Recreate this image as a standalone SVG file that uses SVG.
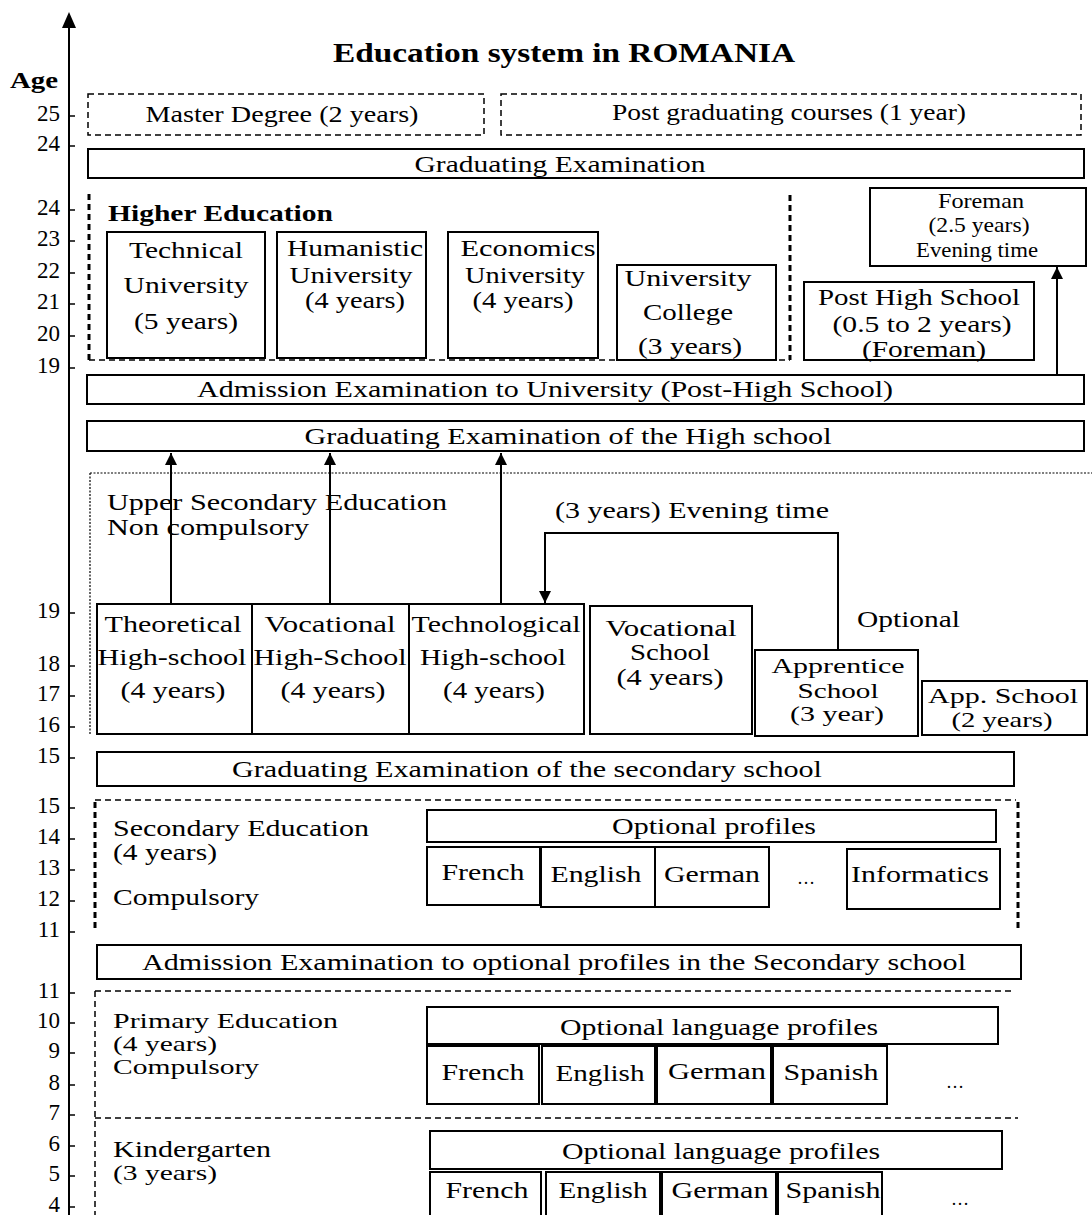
<svg xmlns="http://www.w3.org/2000/svg" width="1092" height="1215" viewBox="0 0 1092 1215">
<style>
text{font-family:"Liberation Serif","Times New Roman",serif;font-size:24px;fill:#000}
.c{text-anchor:middle}
.n{text-anchor:end;font-size:23px}
.s{font-size:21px}
.bold{font-weight:bold}
.box{fill:#fff;stroke:#000;stroke-width:2}
.dash{fill:none;stroke:#000;stroke-width:1.5;stroke-dasharray:6 4}
.tdash{fill:none;stroke:#000;stroke-width:3;stroke-dasharray:6 4}
.dot{fill:none;stroke:#000;stroke-width:1.2;stroke-dasharray:2 1.5}
.ln{fill:none;stroke:#000;stroke-width:2}
</style>
<defs>
<marker id="ah" viewBox="0 0 12 12" refX="12" refY="6" markerWidth="12" markerHeight="12" markerUnits="userSpaceOnUse" orient="auto">
<path d="M0,0 L12,6 L0,12 Z" fill="#000"/>
</marker>
</defs>
<rect width="1092" height="1215" fill="#fff"/>

<g id="axis">
<line x1="69" y1="1215" x2="69" y2="26" class="ln"/>
<path d="M62,28 L69,12 L76,28 Z" fill="#000"/>
<text x="10" y="88" class="bold" style="font-size:24px" textLength="48" lengthAdjust="spacingAndGlyphs">Age</text>
<g stroke="#000" stroke-width="1.5">
<line x1="69" y1="116" x2="75" y2="116"/><line x1="69" y1="146" x2="75" y2="146"/>
<line x1="69" y1="210" x2="75" y2="210"/><line x1="69" y1="241" x2="75" y2="241"/>
<line x1="69" y1="273" x2="75" y2="273"/><line x1="69" y1="304" x2="75" y2="304"/>
<line x1="69" y1="336" x2="75" y2="336"/><line x1="69" y1="368" x2="75" y2="368"/>
<line x1="69" y1="613" x2="75" y2="613"/><line x1="69" y1="666" x2="75" y2="666"/>
<line x1="69" y1="696" x2="75" y2="696"/><line x1="69" y1="727" x2="75" y2="727"/>
<line x1="69" y1="758" x2="75" y2="758"/><line x1="69" y1="808" x2="75" y2="808"/>
<line x1="69" y1="839" x2="75" y2="839"/><line x1="69" y1="870" x2="75" y2="870"/>
<line x1="69" y1="901" x2="75" y2="901"/><line x1="69" y1="932" x2="75" y2="932"/>
<line x1="69" y1="993" x2="75" y2="993"/><line x1="69" y1="1023" x2="75" y2="1023"/>
<line x1="69" y1="1053" x2="75" y2="1053"/><line x1="69" y1="1085" x2="75" y2="1085"/>
<line x1="69" y1="1115" x2="75" y2="1115"/><line x1="69" y1="1146" x2="75" y2="1146"/>
<line x1="69" y1="1176" x2="75" y2="1176"/><line x1="69" y1="1207" x2="75" y2="1207"/>
</g>
<text x="60" y="121" class="n">25</text><text x="60" y="151" class="n">24</text>
<text x="60" y="215" class="n">24</text><text x="60" y="246" class="n">23</text>
<text x="60" y="278" class="n">22</text><text x="60" y="309" class="n">21</text>
<text x="60" y="341" class="n">20</text><text x="60" y="373" class="n">19</text>
<text x="60" y="618" class="n">19</text><text x="60" y="671" class="n">18</text>
<text x="60" y="701" class="n">17</text><text x="60" y="732" class="n">16</text>
<text x="60" y="763" class="n">15</text><text x="60" y="813" class="n">15</text>
<text x="60" y="844" class="n">14</text><text x="60" y="875" class="n">13</text>
<text x="60" y="906" class="n">12</text><text x="60" y="937" class="n">11</text>
<text x="60" y="998" class="n">11</text><text x="60" y="1028" class="n">10</text>
<text x="60" y="1058" class="n">9</text><text x="60" y="1090" class="n">8</text>
<text x="60" y="1120" class="n">7</text><text x="60" y="1151" class="n">6</text>
<text x="60" y="1181" class="n">5</text><text x="60" y="1212" class="n">4</text>
</g>

<text x="564" y="62" class="c bold" style="font-size:28px" textLength="462" lengthAdjust="spacingAndGlyphs">Education system in ROMANIA</text>

<g id="master">
<rect x="88" y="94" width="396" height="41" class="dash"/>
<text x="282" y="122" class="c" textLength="273" lengthAdjust="spacingAndGlyphs">Master Degree (2 years)</text>
</g>
<g id="postgrad">
<rect x="501" y="94" width="580" height="41" class="dash"/>
<text x="789" y="120" class="c" textLength="354" lengthAdjust="spacingAndGlyphs">Post graduating courses (1 year)</text>
</g>
<g id="grad-exam">
<rect x="88" y="149" width="996" height="29" class="box"/>
<text x="560" y="172" class="c" textLength="291" lengthAdjust="spacingAndGlyphs">Graduating Examination</text>
</g>

<g id="higher-education">
<line x1="89" y1="194" x2="89" y2="360" class="tdash"/>
<line x1="89" y1="360" x2="790" y2="360" class="dash"/>
<line x1="790" y1="195" x2="790" y2="360" class="tdash"/>
<text x="108" y="221" class="bold" textLength="225" lengthAdjust="spacingAndGlyphs">Higher Education</text>
</g>
<g id="technical">
<rect x="107" y="232" width="158" height="126" class="box"/>
<text x="186" y="258" class="c" textLength="114" lengthAdjust="spacingAndGlyphs">Technical</text>
<text x="186" y="293" class="c" textLength="125" lengthAdjust="spacingAndGlyphs">University</text>
<text x="186" y="329" class="c" textLength="104" lengthAdjust="spacingAndGlyphs">(5 years)</text>
</g>
<g id="humanistic">
<rect x="277" y="232" width="149" height="126" class="box"/>
<text x="355" y="256" class="c" textLength="136" lengthAdjust="spacingAndGlyphs">Humanistic</text>
<text x="351" y="283" class="c" textLength="123" lengthAdjust="spacingAndGlyphs">University</text>
<text x="355" y="308" class="c" textLength="100" lengthAdjust="spacingAndGlyphs">(4 years)</text>
</g>
<g id="economics">
<rect x="448" y="232" width="150" height="126" class="box"/>
<text x="528" y="256" class="c" textLength="135" lengthAdjust="spacingAndGlyphs">Economics</text>
<text x="525" y="283" class="c" textLength="120" lengthAdjust="spacingAndGlyphs">University</text>
<text x="523" y="308" class="c" textLength="101" lengthAdjust="spacingAndGlyphs">(4 years)</text>
</g>
<g id="univ-college">
<rect x="617" y="265" width="159" height="95" class="box"/>
<text x="688" y="286" class="c" textLength="127" lengthAdjust="spacingAndGlyphs">University</text>
<text x="688" y="320" class="c" textLength="90" lengthAdjust="spacingAndGlyphs">College</text>
<text x="690" y="354" class="c" textLength="104" lengthAdjust="spacingAndGlyphs">(3 years)</text>
</g>
<g id="foreman">
<rect x="870" y="188" width="216" height="78" class="box"/>
<text x="981" y="208" class="c s" textLength="86" lengthAdjust="spacingAndGlyphs">Foreman</text>
<text x="979" y="232" class="c s" textLength="101" lengthAdjust="spacingAndGlyphs">(2.5 years)</text>
<text x="977" y="257" class="c s" textLength="122" lengthAdjust="spacingAndGlyphs">Evening time</text>
</g>
<g id="post-high-school">
<rect x="804" y="282" width="230" height="78" class="box"/>
<text x="919" y="305" class="c" textLength="202" lengthAdjust="spacingAndGlyphs">Post High School</text>
<text x="922" y="332" class="c" textLength="179" lengthAdjust="spacingAndGlyphs">(0.5 to 2 years)</text>
<text x="924" y="357" class="c" textLength="124" lengthAdjust="spacingAndGlyphs">(Foreman)</text>
</g>
<g id="admission-univ">
<rect x="87" y="375" width="997" height="29" class="box"/>
<text x="545" y="397" class="c" textLength="696" lengthAdjust="spacingAndGlyphs">Admission Examination to University (Post-High School)</text>
</g>
<g id="grad-high">
<rect x="87" y="421" width="997" height="30" class="box"/>
<text x="568" y="444" class="c" textLength="527" lengthAdjust="spacingAndGlyphs">Graduating Examination of the High school</text>
</g>

<g id="upper-secondary">
<line x1="90" y1="473" x2="1092" y2="473" class="dot"/>
<line x1="90" y1="473" x2="90" y2="734" class="dot"/>
<text x="107" y="510" textLength="340" lengthAdjust="spacingAndGlyphs">Upper Secondary Education</text>
<text x="107" y="535" textLength="202" lengthAdjust="spacingAndGlyphs">Non compulsory</text>
<text x="555" y="518" textLength="274" lengthAdjust="spacingAndGlyphs">(3 years) Evening time</text>
<text x="857" y="627" textLength="103" lengthAdjust="spacingAndGlyphs">Optional</text>
</g>

<g id="connectors">
<line x1="171" y1="604" x2="171" y2="453" class="ln" marker-end="url(#ah)"/>
<line x1="330" y1="604" x2="330" y2="453" class="ln" marker-end="url(#ah)"/>
<line x1="501" y1="604" x2="501" y2="453" class="ln" marker-end="url(#ah)"/>
<line x1="1057" y1="375" x2="1057" y2="267" class="ln" marker-end="url(#ah)"/>
<path d="M838,650 V533 H545 V603" class="ln" marker-end="url(#ah)"/>
</g>

<g id="theoretical">
<rect x="97" y="604" width="155" height="130" class="box"/>
<text x="173" y="632" class="c" textLength="137" lengthAdjust="spacingAndGlyphs">Theoretical</text>
<text x="172" y="665" class="c" textLength="149" lengthAdjust="spacingAndGlyphs">High-school</text>
<text x="173" y="698" class="c" textLength="105" lengthAdjust="spacingAndGlyphs">(4 years)</text>
</g>
<g id="vocational-hs">
<rect x="252" y="604" width="157" height="130" class="box"/>
<text x="330" y="632" class="c" textLength="131" lengthAdjust="spacingAndGlyphs">Vocational</text>
<text x="330" y="665" class="c" textLength="153" lengthAdjust="spacingAndGlyphs">High-School</text>
<text x="333" y="698" class="c" textLength="105" lengthAdjust="spacingAndGlyphs">(4 years)</text>
</g>
<g id="technological">
<rect x="409" y="604" width="175" height="130" class="box"/>
<text x="496" y="632" class="c" textLength="169" lengthAdjust="spacingAndGlyphs">Technological</text>
<text x="493" y="665" class="c" textLength="146" lengthAdjust="spacingAndGlyphs">High-school</text>
<text x="494" y="698" class="c" textLength="102" lengthAdjust="spacingAndGlyphs">(4 years)</text>
</g>
<g id="vocational-school">
<rect x="590" y="606" width="162" height="128" class="box"/>
<text x="671" y="636" class="c" textLength="131" lengthAdjust="spacingAndGlyphs">Vocational</text>
<text x="670" y="660" class="c" textLength="80" lengthAdjust="spacingAndGlyphs">School</text>
<text x="670" y="685" class="c" textLength="107" lengthAdjust="spacingAndGlyphs">(4 years)</text>
</g>
<g id="apprentice">
<rect x="755" y="650" width="163" height="86" class="box"/>
<text x="838" y="673" class="c s" textLength="133" lengthAdjust="spacingAndGlyphs">Apprentice</text>
<text x="838" y="698" class="c s" textLength="81" lengthAdjust="spacingAndGlyphs">School</text>
<text x="837" y="721" class="c s" textLength="94" lengthAdjust="spacingAndGlyphs">(3 year)</text>
</g>
<g id="app-school">
<rect x="922" y="681" width="165" height="54" class="box"/>
<text x="1003" y="703" class="c s" textLength="150" lengthAdjust="spacingAndGlyphs">App. School</text>
<text x="1002" y="727" class="c s" textLength="101" lengthAdjust="spacingAndGlyphs">(2 years)</text>
</g>

<g id="grad-secondary">
<rect x="97" y="752" width="917" height="34" class="box"/>
<text x="527" y="777" class="c" textLength="590" lengthAdjust="spacingAndGlyphs">Graduating Examination of the secondary school</text>
</g>

<g id="secondary">
<line x1="95" y1="800" x2="1016" y2="800" class="dash"/>
<line x1="95" y1="802" x2="95" y2="928" class="tdash"/>
<line x1="1018" y1="802" x2="1018" y2="928" class="tdash"/>
<text x="113" y="836" textLength="256" lengthAdjust="spacingAndGlyphs">Secondary Education</text>
<text x="113" y="860" textLength="104" lengthAdjust="spacingAndGlyphs">(4 years)</text>
<text x="113" y="905" textLength="146" lengthAdjust="spacingAndGlyphs">Compulsory</text>
</g>
<g id="optional-profiles">
<rect x="427" y="810" width="569" height="32" class="box"/>
<text x="714" y="834" class="c" textLength="204" lengthAdjust="spacingAndGlyphs">Optional profiles</text>
</g>
<g id="sec-french"><rect x="427" y="847" width="113" height="58" class="box"/><text x="483" y="880" class="c" textLength="83" lengthAdjust="spacingAndGlyphs">French</text></g>
<g id="sec-english"><rect x="541" y="847" width="114" height="60" class="box"/><text x="596" y="882" class="c" textLength="91" lengthAdjust="spacingAndGlyphs">English</text></g>
<g id="sec-german"><rect x="655" y="847" width="114" height="60" class="box"/><text x="712" y="882" class="c" textLength="96" lengthAdjust="spacingAndGlyphs">German</text></g>
<text x="806" y="884" class="c" style="font-size:18px">…</text>
<g id="sec-informatics"><rect x="847" y="849" width="153" height="60" class="box"/><text x="920" y="882" class="c" textLength="138" lengthAdjust="spacingAndGlyphs">Informatics</text></g>

<g id="admission-profiles">
<rect x="97" y="945" width="924" height="34" class="box"/>
<text x="554" y="970" class="c" textLength="824" lengthAdjust="spacingAndGlyphs">Admission Examination to optional profiles in the Secondary school</text>
</g>

<g id="primary">
<line x1="95" y1="991" x2="1015" y2="991" class="dash"/>
<line x1="95" y1="991" x2="95" y2="1215" class="dash"/>
<line x1="95" y1="1118" x2="1018" y2="1118" class="dash"/>
<text x="113" y="1028" class="s" textLength="225" lengthAdjust="spacingAndGlyphs">Primary Education</text>
<text x="113" y="1051" class="s" textLength="104" lengthAdjust="spacingAndGlyphs">(4 years)</text>
<text x="113" y="1074" class="s" textLength="146" lengthAdjust="spacingAndGlyphs">Compulsory</text>
</g>
<g id="primary-lang">
<rect x="427" y="1007" width="571" height="37" class="box"/>
<text x="719" y="1035" class="c" textLength="318" lengthAdjust="spacingAndGlyphs">Optional language profiles</text>
</g>
<g id="pri-french"><rect x="427" y="1046" width="112" height="58" class="box"/><text x="483" y="1080" class="c" textLength="83" lengthAdjust="spacingAndGlyphs">French</text></g>
<g id="pri-english"><rect x="542" y="1046" width="113" height="58" class="box"/><text x="600" y="1081" class="c" textLength="89" lengthAdjust="spacingAndGlyphs">English</text></g>
<g id="pri-german"><rect x="657" y="1046" width="114" height="58" class="box"/><text x="717" y="1079" class="c" textLength="98" lengthAdjust="spacingAndGlyphs">German</text></g>
<g id="pri-spanish"><rect x="773" y="1046" width="114" height="58" class="box"/><text x="831" y="1080" class="c" textLength="95" lengthAdjust="spacingAndGlyphs">Spanish</text></g>
<text x="955" y="1088" class="c" style="font-size:18px">…</text>

<g id="kindergarten">
<text x="113" y="1157" textLength="158" lengthAdjust="spacingAndGlyphs">Kindergarten</text>
<text x="113" y="1180" class="s" textLength="104" lengthAdjust="spacingAndGlyphs">(3 years)</text>
</g>
<g id="kg-lang">
<rect x="430" y="1131" width="572" height="38" class="box"/>
<text x="721" y="1159" class="c" textLength="318" lengthAdjust="spacingAndGlyphs">Optional language profiles</text>
</g>
<g id="kg-french"><rect x="430" y="1172" width="111" height="50" class="box"/><text x="487" y="1198" class="c" textLength="83" lengthAdjust="spacingAndGlyphs">French</text></g>
<g id="kg-english"><rect x="546" y="1172" width="114" height="50" class="box"/><text x="603" y="1198" class="c" textLength="89" lengthAdjust="spacingAndGlyphs">English</text></g>
<g id="kg-german"><rect x="662" y="1172" width="114" height="50" class="box"/><text x="720" y="1198" class="c" textLength="97" lengthAdjust="spacingAndGlyphs">German</text></g>
<g id="kg-spanish"><rect x="778" y="1172" width="104" height="50" class="box"/><text x="833" y="1198" class="c" textLength="95" lengthAdjust="spacingAndGlyphs">Spanish</text></g>
<text x="960" y="1205" class="c" style="font-size:18px">…</text>
</svg>
